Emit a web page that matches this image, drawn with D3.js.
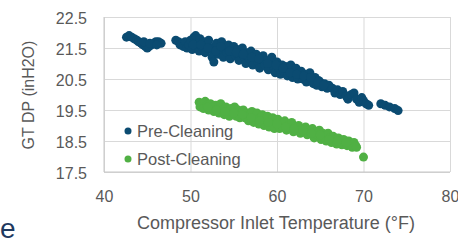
<!DOCTYPE html>
<html>
<head>
<meta charset="utf-8">
<script src="https://cdn.jsdelivr.net/npm/d3@7"></script>
<style>
  body { margin: 0; background: #fff; }
  svg { display: block; font-family: "Liberation Sans", Arial, sans-serif; }
</style>
</head>
<body>
<div id="chart"></div>
<script>
// series: [inlet temp (F), GT DP (inH2O)]
const preCleaning = [
  [42.6,21.85],[42.9,21.9],[43.2,21.85],[43.5,21.8],[43.8,21.75],[44.0,21.7],[44.3,21.65],
  [44.5,21.6],[44.8,21.55],[45.0,21.5],[45.2,21.55],[45.5,21.6],[45.8,21.65],[46.0,21.7],
  [46.3,21.7],[46.6,21.65],[44.6,21.7],[45.3,21.65],[46.1,21.6],
  [48.3,21.75],[48.6,21.7],[48.8,21.6],[49.0,21.65],[49.2,21.55],[49.4,21.7],[49.6,21.5],
  [49.8,21.6],[50.0,21.75],[50.2,21.45],[50.4,21.85],[50.6,21.9],[50.8,21.6],[51.0,21.4],
  [51.1,21.8],[51.3,21.55],[51.5,21.7],[51.7,21.35],[51.9,21.6],[52.1,21.75],[52.3,21.45],
  [52.5,21.2],[52.7,21.05],[52.8,21.55],[53.0,21.65],[53.2,21.3],[53.4,21.45],[53.6,21.7],
  [53.8,21.2],[54.0,21.5],[54.2,21.35],[54.4,21.6],[54.6,21.15],[54.8,21.4],[55.0,21.55],
  [55.2,21.25],[55.4,21.45],[55.6,21.1],[55.8,21.35],[56.0,21.5],[56.2,21.2],[56.4,21.0],
  [56.6,21.35],[56.8,21.15],[57.0,21.4],[57.2,20.95],[57.4,21.2],[57.6,21.3],[57.8,21.05],
  [58.0,20.85],[58.2,21.15],[58.4,21.25],[58.6,20.95],[58.8,21.1],[59.0,20.8],[59.2,21.0],
  [59.4,21.2],[59.6,20.9],[59.8,20.7],[60.0,21.05],[60.2,20.85],[60.4,20.65],[60.6,20.95],
  [60.8,20.75],[61.0,20.9],[61.2,20.6],[61.4,20.8],[61.6,20.95],[61.8,20.55],[62.0,20.7],
  [62.2,20.85],[62.4,20.5],[62.6,20.65],[62.8,20.75],[63.0,20.5],[63.2,20.65],[63.4,20.4],
  [63.6,20.6],[63.8,20.7],[64.0,20.45],[64.2,20.35],[64.4,20.55],[64.6,20.3],[64.8,20.45],
  [65.0,20.4],[65.2,20.25],[65.5,20.35],[65.8,20.2],[66.0,20.3],
  [50.3,21.6],[51.2,21.6],[52.0,21.5],[52.9,21.4],[53.5,21.55],[54.5,21.4],[55.3,21.35],
  [56.1,21.3],[57.1,21.2],[57.9,21.15],[58.9,21.0],[59.9,20.95],[60.7,20.85],[61.5,20.7],
  [62.3,20.65],[63.1,20.6],[63.9,20.55],[64.7,20.4],[65.4,20.3],
  [66.4,20.2],[66.7,20.05],[67.0,20.15],[67.3,20.0],[67.6,20.1],[68.0,19.95],[68.2,19.85],
  [68.6,20.0],[68.9,20.05],[69.2,19.85],[69.5,19.75],[69.8,19.9],[70.0,19.8],[70.3,19.7],
  [70.6,19.65],[72.0,19.7],[72.5,19.65],[73.0,19.6],[73.6,19.55],[74.0,19.48]
];

const postCleaning = [
  [51.0,19.75],[51.1,19.6],[51.3,19.7],[51.5,19.55],[51.7,19.78],[51.9,19.65],[52.1,19.5],
  [52.3,19.7],[52.5,19.6],[52.7,19.45],[52.9,19.65],[53.1,19.55],[53.3,19.4],[53.5,19.7],
  [53.7,19.5],[53.9,19.35],[54.1,19.6],[54.3,19.45],[54.5,19.3],[54.7,19.55],[54.9,19.4],
  [55.1,19.6],[55.3,19.3],[55.5,19.5],[55.7,19.25],[55.9,19.4],[56.1,19.5],[56.3,19.25],
  [56.5,19.4],[56.7,19.15],[56.9,19.35],[57.1,19.45],[57.3,19.1],[57.5,19.3],[57.7,19.4],
  [57.9,19.05],[58.1,19.25],[58.3,19.35],[58.5,19.0],[58.7,19.2],[58.9,19.3],[59.1,18.95],
  [59.3,19.15],[59.5,19.25],[59.7,18.9],[59.9,19.1],[60.1,19.2],[60.3,18.9],[60.5,19.05],
  [60.7,18.95],[60.9,19.15],[61.1,18.85],[61.3,19.0],[61.5,18.9],[61.7,19.1],[61.9,18.8],
  [62.1,18.95],[62.3,18.85],[62.5,19.0],[62.7,18.75],[62.9,18.9],[63.1,18.8],[63.3,18.95],
  [63.5,18.7],[63.7,18.85],[63.9,18.75],[64.1,18.9],[64.3,18.6],[64.5,18.8],[64.7,18.7],
  [64.9,18.85],[65.1,18.55],[65.3,18.75],[65.5,18.65],[65.7,18.5],[65.9,18.75],[66.1,18.6],
  [66.3,18.45],[66.5,18.65],[66.7,18.55],[66.9,18.4],[67.1,18.6],[67.3,18.5],[67.5,18.38],
  [67.7,18.55],[67.9,18.45],[68.1,18.35],[68.3,18.5],[68.5,18.38],[68.7,18.3],[68.9,18.45],
  [69.1,18.35],[69.2,18.3],
  [52.0,19.6],[53.0,19.5],[54.0,19.45],[55.0,19.4],[56.0,19.35],[57.0,19.25],[58.0,19.15],
  [59.0,19.1],[60.0,19.05],[61.0,18.95],[62.0,18.9],[63.0,18.85],[64.0,18.75],[65.0,18.7],
  [66.0,18.55],[67.0,18.5],[68.0,18.45],
  [70.0,17.98]
];

const xTicks = [40, 50, 60, 70, 80];
const yTicks = [17.5, 18.5, 19.5, 20.5, 21.5, 22.5];
const seriesNames = ["Pre-Cleaning", "Post-Cleaning"];
const seriesColors = ["#0b4b71", "#50b044"];

const width = 458, height = 244;
const margin = { top: 17, right: 8, bottom: 72, left: 104 };
const innerW = width - margin.left - margin.right;
const innerH = height - margin.top - margin.bottom;

const svg = d3.select("#chart").append("svg")
  .attr("width", width)
  .attr("height", height);

const g = svg.append("g")
  .attr("transform", `translate(${margin.left},${margin.top})`);

const x = d3.scaleLinear().domain([40, 80]).range([0, innerW]);
const y = d3.scaleLinear().domain([17.5, 22.5]).range([innerH, 0]);

// gridlines + tick labels
const yAxis = g.append("g")
  .call(d3.axisLeft(y).tickValues(yTicks).tickFormat(d3.format(".1f"))
    .tickSize(-innerW).tickPadding(17));
yAxis.select(".domain").remove();
yAxis.selectAll("line").attr("stroke", "#d9d9d9");
yAxis.selectAll("text").attr("fill", "#595959").attr("font-size", 16).attr("dy", "0.4em");

const xAxis = g.append("g")
  .attr("transform", `translate(0,${innerH})`)
  .call(d3.axisBottom(x).tickValues(xTicks).tickSize(-innerH).tickPadding(19));
xAxis.select(".domain").remove();
xAxis.selectAll("line").attr("stroke", "#d9d9d9");
xAxis.selectAll("text").attr("fill", "#595959").attr("font-size", 16);

// left / bottom frame
g.append("line").attr("x1", 0).attr("x2", 0).attr("y1", 0).attr("y2", innerH)
  .attr("stroke", "#c6c6c6");
g.append("line").attr("x1", 0).attr("x2", innerW).attr("y1", innerH).attr("y2", innerH)
  .attr("stroke", "#c6c6c6");

// points
[preCleaning, postCleaning].forEach((pts, i) => {
  g.append("g").selectAll("circle")
    .data(pts)
    .enter()
    .append("circle")
    .attr("cx", d => x(d[0]))
    .attr("cy", d => y(d[1]))
    .attr("r", 4.5)
    .attr("fill", seriesColors[i]);
});

// legend inside plot
const legend = g.append("g").attr("transform", "translate(24,114)");
seriesNames.forEach((name, i) => {
  const row = legend.append("g").attr("transform", `translate(0,${i * 28})`);
  row.append("circle").attr("r", 3.5).attr("fill", seriesColors[i]);
  row.append("text")
    .attr("x", 9)
    .attr("y", 6)
    .attr("fill", "#595959")
    .attr("font-size", 16.5)
    .text(name);
});

// axis titles
svg.append("text")
  .attr("x", margin.left + innerW / 2 - 1)
  .attr("y", 229)
  .attr("text-anchor", "middle")
  .attr("fill", "#595959")
  .attr("font-size", 18)
  .text("Compressor Inlet Temperature (°F)");

svg.append("text")
  .attr("transform", "translate(34,95) rotate(-90)")
  .attr("text-anchor", "middle")
  .attr("fill", "#595959")
  .attr("font-size", 16)
  .text("GT DP (inH2O)");

// slide text at lower left
svg.append("text")
  .attr("x", 0)
  .attr("y", 238)
  .attr("fill", "#1f3a60")
  .attr("font-size", 28)
  .text("e");
</script>
</body>
</html>
